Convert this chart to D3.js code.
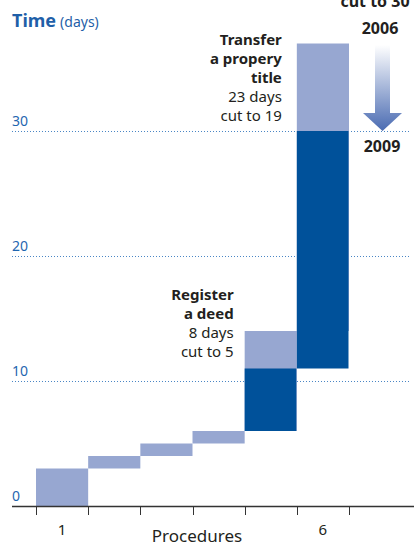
<!DOCTYPE html>
<html><head><meta charset="utf-8">
<script src="https://cdn.jsdelivr.net/npm/d3@7"></script>
<style>
html,body{margin:0;padding:0;background:#fff;}
svg{display:block;font-family:"Noto Sans",sans-serif;}
</style></head>
<body>
<script>
const procedures = [1,2,3,4,5,6];
const days2006 = [3,1,1,1,8,23];
const days2009 = [3,1,1,1,5,19];
const yTicks = [0,10,20,30];
const xTickLabels = {1:"1",6:"6"};

const W=414,H=546;
const svg=d3.select("body").append("svg").attr("width",W).attr("height",H);
const x=d3.scaleLinear().domain([0,6]).range([36,349]);
const y=d3.scaleLinear().domain([0,40]).range([506,6]);

const start06=[],start09=[];
let a=0,b=0;
for(let i=0;i<procedures.length;i++){start06.push(a);a+=days2006[i];start09.push(b);b+=days2009[i];}

const blue="#1f66b0";
// gridlines
svg.append("g").selectAll("line").data(yTicks.filter(d=>d>0)).join("line")
 .attr("x1",12).attr("x2",409).attr("y1",d=>Math.round(y(d))+0.5).attr("y2",d=>Math.round(y(d))+0.5)
 .attr("stroke","#4a86c5").attr("stroke-width",1).attr("stroke-dasharray","1,2");
svg.append("g").selectAll("text").data(yTicks).join("text")
 .attr("x",12).attr("y",d=>y(d)-5).attr("fill",blue).attr("font-size",14).text(d=>d);

// light bars 2006
svg.append("g").selectAll("rect").data(procedures).join("rect")
 .attr("x",(d,i)=>x(i)).attr("width",(d,i)=>x(i+1)-x(i))
 .attr("y",(d,i)=>y(start06[i]+days2006[i])).attr("height",(d,i)=>y(start06[i])-y(start06[i]+days2006[i]))
 .attr("fill","#97a7d1");
// dark bars 2009 where changed
const changed=procedures.map((d,i)=>i).filter(i=>days2009[i]!==days2006[i]);
svg.append("g").selectAll("rect").data(changed).join("rect")
 .attr("x",i=>x(i)).attr("width",i=>x(i+1)-x(i)-0.5)
 .attr("y",i=>y(start09[i]+days2009[i])).attr("height",i=>y(start09[i])-y(start09[i]+days2009[i]))
 .attr("fill","#00519a");

// axis
svg.append("line").attr("x1",12).attr("x2",414).attr("y1",506.5).attr("y2",506.5).attr("stroke","#333").attr("stroke-width",1.5);
svg.append("g").selectAll("line").data(d3.range(0,7)).join("line")
 .attr("x1",d=>Math.round(x(d))+0.5).attr("x2",d=>Math.round(x(d))+0.5).attr("y1",506).attr("y2",515)
 .attr("stroke","#333").attr("stroke-width",1);
svg.append("g").selectAll("text").data(procedures.filter(p=>xTickLabels[p])).join("text")
 .attr("x",p=>(x(p-1)+x(p))/2).attr("y",535).attr("text-anchor","middle").attr("font-size",15).attr("fill","#231f20")
 .text(p=>xTickLabels[p]);
svg.append("text").attr("x",197).attr("y",542).attr("text-anchor","middle").attr("font-size",17).attr("fill","#231f20").text("Procedures");

// title
const t=svg.append("text").attr("x",12).attr("y",27).attr("fill","#1f5fa8");
t.append("tspan").attr("font-weight","bold").attr("font-size",18).text("Time");
t.append("tspan").attr("font-size",14).attr("dx",4).text("(days)");

// annotations
function ann(xr,y0,bold,reg){
  const g=svg.append("g").attr("fill","#231f20").attr("text-anchor","end");
  let yy=y0;
  bold.forEach(s=>{g.append("text").attr("x",xr).attr("y",yy).attr("font-weight","bold").attr("font-size",15).text(s);yy+=19;});
  reg.forEach(s=>{g.append("text").attr("x",xr).attr("y",yy).attr("font-size",15).text(s);yy+=19;});
}
ann(x(5)-15,45,["Transfer","a propery","title"],["23 days","cut to 19"]);
ann(x(4)-11,300,["Register","a deed"],["8 days","cut to 5"]);

svg.append("text").attr("x",375).attr("y",7).attr("text-anchor","middle").attr("font-weight","bold").attr("font-size",16).attr("fill","#231f20").text("cut to 30");
svg.append("text").attr("x",380).attr("y",34).attr("text-anchor","middle").attr("font-weight","bold").attr("font-size",16).attr("fill","#231f20").text("2006");
svg.append("text").attr("x",382).attr("y",152).attr("text-anchor","middle").attr("font-weight","bold").attr("font-size",16).attr("fill","#231f20").text("2009");

// arrow
const defs=svg.append("defs");
const lg=defs.append("linearGradient").attr("id","ag").attr("x1",0).attr("y1",0).attr("x2",0).attr("y2",1);
lg.append("stop").attr("offset",0).attr("stop-color","#ffffff");
lg.append("stop").attr("offset",1).attr("stop-color","#4a6bb2");
svg.append("path").attr("d","M375,45 L390,45 L390,113 L402,113 L382.5,131 L363,113 L375,113 Z").attr("fill","url(#ag)");
</script>
</body></html>
